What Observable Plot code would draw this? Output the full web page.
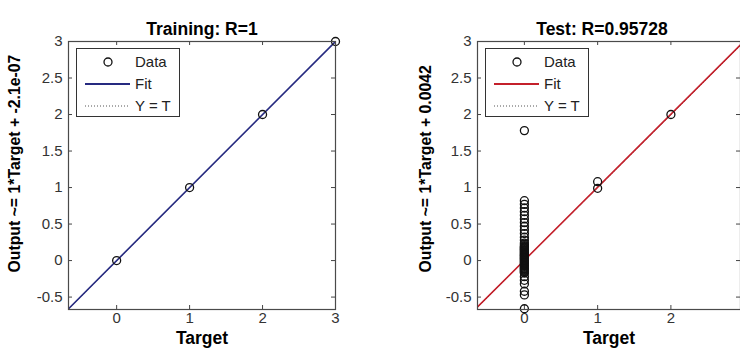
<!DOCTYPE html>
<html>
<head>
<meta charset="utf-8">
<script src="https://cdn.jsdelivr.net/npm/d3@7"></script>
<script src="https://cdn.jsdelivr.net/npm/@observablehq/plot@0.6"></script>
<style>
  html, body { margin: 0; padding: 0; background: #fff; }
  #fig { position: relative; width: 740px; height: 354px; overflow: hidden; font-family: "Liberation Sans", Arial, sans-serif; }
  .panel { position: absolute; top: 0; width: 370px; height: 354px; }
  .legend { position: absolute; background: #fff; border: 1px solid #333; box-sizing: border-box; }
</style>
</head>
<body>
<div id="fig"></div>
<script>
// ---- data ----
const xTicks = [0, 1, 2, 3];
const yTicks = [-0.5, 0, 0.5, 1, 1.5, 2, 2.5, 3];

const trainTarget = [0, 1, 2, 3];
const trainOutput = [0, 1, 2, 3];
const trainFit = {slope: 1, intercept: -2.1e-07};

const testOutput = [
  0.82, 0.77, 0.72, 0.67, 0.62, 0.57, 0.52, 0.47, 0.42, 0.37,
  0.32, 0.28, 0.24, 0.22, 0.20, 0.19, 0.18, 0.17, 0.16, 0.15,
  0.14, 0.13, 0.12, 0.11, 0.10, 0.09, 0.08, 0.07, 0.06, 0.05,
  0.04, 0.03, 0.02, 0.01, 0.00, -0.01, -0.02, -0.03, -0.04, -0.05,
  -0.06, -0.07, -0.08, -0.09, -0.10, -0.11, -0.12, -0.13, -0.14, -0.15,
  -0.16, -0.17, -0.22, -0.27, -0.32, -0.42, -0.47, -0.66, 1.78,
  0.99, 1.08, 2.00
];
const testTarget = [
  0, 0, 0, 0, 0, 0, 0, 0, 0, 0,
  0, 0, 0, 0, 0, 0, 0, 0, 0, 0,
  0, 0, 0, 0, 0, 0, 0, 0, 0, 0,
  0, 0, 0, 0, 0, 0, 0, 0, 0, 0,
  0, 0, 0, 0, 0, 0, 0, 0, 0, 0,
  0, 0, 0, 0, 0, 0, 0, 0, 0,
  1, 1, 2
];
const testFit = {slope: 1, intercept: 0.0042};

const panels = [
  {
    left: 0, title: "Training: R=1", titleDx: 0,
    ylabel: "Output ~= 1*Target + -2.1e-07",
    color: "#262a80",
    target: trainTarget, output: trainOutput, fit: trainFit,
    xDomain: [-0.66, 3], yDomain: [-0.67, 3],
    marginLeft: 68, marginRight: 35, ylabelX: 19
  },
  {
    left: 370, title: "Test: R=0.95728", titleDx: -7,
    ylabel: "Output ~= 1*Target + 0.0042",
    color: "#c4202b",
    target: testTarget, output: testOutput, fit: testFit,
    xDomain: [-0.64, 2.95], yDomain: [-0.67, 3],
    marginLeft: 107, marginRight: 0, ylabelX: 60
  }
];

const W = 370, H = 354, MT = 41, MB = 45;
const fig = document.getElementById("fig");

for (const p of panels) {
  const plotW = W - p.marginLeft - p.marginRight;
  const plotH = H - MT - MB;
  const pts = p.target.map((t, i) => ({t, o: p.output[i]}));
  const fitLine = p.xDomain.map(x => ({x, y: p.fit.slope * x + p.fit.intercept}));
  const idLine = p.xDomain.map(x => ({x, y: x}));
  const xt = xTicks.filter(d => d >= p.xDomain[0] && d <= p.xDomain[1]);

  const chart = Plot.plot({
    width: W, height: H,
    marginLeft: p.marginLeft, marginRight: p.marginRight, marginTop: MT, marginBottom: MB,
    style: {fontFamily: '"Liberation Sans", Arial, sans-serif', background: "transparent", overflow: "visible"},
    x: {domain: p.xDomain},
    y: {domain: p.yDomain},
    marks: [
      // inward ticks on all four sides
      Plot.tickX(xt, {x: d => d, insetTop: plotH - 4, stroke: "#444"}),
      Plot.tickX(xt, {x: d => d, insetBottom: plotH - 4, stroke: "#444"}),
      Plot.tickY(yTicks, {y: d => d, insetRight: plotW - 4, stroke: "#444"}),
      Plot.tickY(yTicks, {y: d => d, insetLeft: plotW - 4, stroke: "#444"}),
      Plot.axisX(xt, {tickSize: 0, tickPadding: 3, fontSize: 15, color: "#333", label: null, tickFormat: d => String(d)}),
      Plot.axisY(yTicks, {tickSize: 0, tickPadding: 6, fontSize: 15, color: "#333", label: null, tickFormat: d => String(d)}),
      Plot.line(idLine, {x: "x", y: "y", stroke: "#000", strokeDasharray: "1,2", strokeWidth: 1, clip: true}),
      Plot.line(fitLine, {x: "x", y: "y", stroke: p.color, strokeWidth: 1.6, clip: true}),
      Plot.dot(pts, {x: "t", y: "o", r: 4, stroke: "#111", fill: "none", strokeWidth: 1.3}),
      Plot.frame({stroke: "#4a4a4a", strokeWidth: 1.2}),
      Plot.text([p.title], {text: d => d, frameAnchor: "top", dy: -19, dx: p.titleDx, fontSize: 17.5, fontWeight: "bold", fill: "#000"}),
      Plot.text(["Target"], {text: d => d, frameAnchor: "bottom", dy: 34, fontSize: 17.5, fontWeight: "bold", fill: "#000"}),
      Plot.text([p.ylabel], {text: d => d, frameAnchor: "bottom-left", dx: p.ylabelX - p.marginLeft, dy: -37, rotate: -90, textAnchor: "start", fontSize: 15.8, fontWeight: "bold", fill: "#000"})
    ]
  });

  const panel = document.createElement("div");
  panel.className = "panel";
  panel.style.left = p.left + "px";
  panel.appendChild(chart);

  // legend box inside the axes
  const lg = document.createElement("div");
  lg.className = "legend";
  const lx = p.marginLeft + 8, ly = 48, lw = 104, lh = 69;
  lg.style.left = lx + "px"; lg.style.top = ly + "px";
  lg.style.width = lw + "px"; lg.style.height = lh + "px";
  const svg = d3.create("svg").attr("width", lw - 2).attr("height", lh - 2)
    .style("position", "absolute").style("left", "0px").style("top", "0px");
  svg.append("circle").attr("cx", 31).attr("cy", 13).attr("r", 4)
    .attr("fill", "none").attr("stroke", "#111").attr("stroke-width", 1.3);
  svg.append("line").attr("x1", 8).attr("x2", 53).attr("y1", 35).attr("y2", 35)
    .attr("stroke", p.color).attr("stroke-width", 2.2);
  svg.append("line").attr("x1", 8).attr("x2", 53).attr("y1", 57).attr("y2", 57)
    .attr("stroke", "#555").attr("stroke-width", 1).attr("stroke-dasharray", "1,2");
  const labels = [["Data", 13], ["Fit", 35], ["Y = T", 57]];
  for (const [t, y] of labels) {
    svg.append("text").attr("x", 58).attr("y", y).attr("dy", "0.35em")
      .attr("font-size", 15).attr("font-family", '"Liberation Sans", Arial, sans-serif')
      .attr("fill", "#222").text(t);
  }
  lg.appendChild(svg.node());
  panel.appendChild(lg);
  fig.appendChild(panel);
}
</script>
</body>
</html>
